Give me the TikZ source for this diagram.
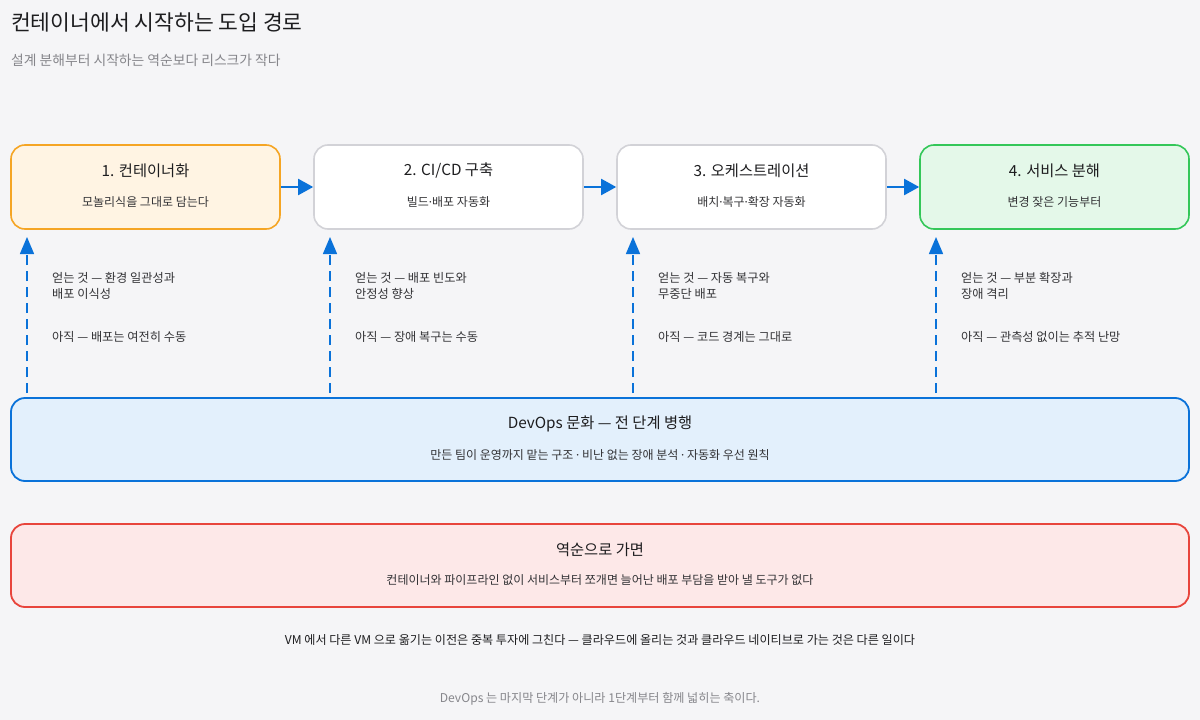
\documentclass[tikz,border=0pt]{standalone}
\usepackage{fontspec}
\setmainfont{Noto Sans CJK KR}
\newfontfamily\latinfont{Noto Sans}
\newcommand{\mdot}{{\latinfont ·}}
\usetikzlibrary{arrows.meta}
\definecolor{bg}{HTML}{F5F5F7}
\definecolor{ink}{HTML}{1D1D1F}
\definecolor{body}{HTML}{333336}
\definecolor{muted}{HTML}{86868B}
\definecolor{orangeB}{HTML}{F5A524}
\definecolor{orangeF}{HTML}{FFF4E3}
\definecolor{grayB}{HTML}{D2D2D7}
\definecolor{greenB}{HTML}{34C759}
\definecolor{greenF}{HTML}{E4F8E9}
\definecolor{blueB}{HTML}{0A72D9}
\definecolor{blueF}{HTML}{E3F0FC}
\definecolor{redB}{HTML}{E8453C}
\definecolor{redF}{HTML}{FDE8E8}
\tikzset{
  stagebox/.style={rounded corners=14pt, line width=1.6pt, minimum width=269pt, minimum height=84pt, inner sep=0pt},
  widebox/.style={rounded corners=14pt, line width=1.8pt, minimum width=1178pt, minimum height=83pt, inner sep=0pt},
  boxtitle/.style={font=\fontsize{15.3}{18}\selectfont, text=ink, inner sep=0pt},
  boxsub/.style={font=\fontsize{12}{14}\selectfont, text=body, inner sep=0pt},
  sidetext/.style={font=\fontsize{12.2}{16}\selectfont, text=body, align=left, anchor=west, inner sep=0pt},
  flow/.style={draw=blueB, line width=2pt, -{Triangle[length=15pt,width=16pt]}},
  upflow/.style={draw=blueB, line width=1.5pt, dash pattern=on 10pt off 6pt, -{Triangle[length=17pt,width=14pt]}},
}
\begin{document}
\begin{tikzpicture}[x=1pt,y=-1pt]
\fill[bg] (0,0) rectangle (1200,720);
\useasboundingbox (0,0) rectangle (1200,720);

\node[anchor=west, font=\fontsize{21.5}{24}\selectfont, text=ink, inner sep=0pt] (title) at (11,22) {컨테이너에서 시작하는 도입 경로};
\node[anchor=west, font=\fontsize{13.8}{16}\selectfont, text=muted, inner sep=0pt] (subtitle) at (11,60) {설계 분해부터 시작하는 역순보다 리스크가 작다};

\node[stagebox, draw=orangeB, fill=orangeF] (b1) at (145.5,187) {};
\node[stagebox, draw=grayB, fill=white] (b2) at (448.5,187) {};
\node[stagebox, draw=grayB, fill=white] (b3) at (751.5,187) {};
\node[stagebox, draw=greenB, fill=greenF] (b4) at (1054.5,187) {};

\node[boxtitle] (b1t) at ([yshift=16pt]b1.center) {1. 컨테이너화};
\node[boxsub] (b1s) at ([yshift=-15pt]b1.center) {모놀리식을 그대로 담는다};
\node[boxtitle] (b2t) at ([yshift=16pt]b2.center) {2. CI/CD 구축};
\node[boxsub] (b2s) at ([yshift=-15pt]b2.center) {빌드\mdot 배포 자동화};
\node[boxtitle] (b3t) at ([yshift=16pt]b3.center) {3. 오케스트레이션};
\node[boxsub] (b3s) at ([yshift=-15pt]b3.center) {배치\mdot 복구\mdot 확장 자동화};
\node[boxtitle] (b4t) at ([yshift=16pt]b4.center) {4. 서비스 분해};
\node[boxsub] (b4s) at ([yshift=-15pt]b4.center) {변경 잦은 기능부터};

\draw[flow] (b1) -- (b2);
\draw[flow] (b2) -- (b3);
\draw[flow] (b3) -- (b4);

\node[widebox, draw=blueB, fill=blueF] (dev) at (600,439.5) {};
\node[boxtitle] (devt) at ([yshift=16pt]dev.center) {DevOps 문화 — 전 단계 병행};
\node[boxsub] (devs) at ([yshift=-15pt]dev.center) {만든 팀이 운영까지 맡는 구조 \mdot{} 비난 없는 장애 분석 \mdot{} 자동화 우선 원칙};

\node[widebox, draw=redB, fill=redF] (rev) at (600,565.5) {};
\node[boxtitle] (revt) at ([yshift=16pt]rev.center) {역순으로 가면};
\node[boxsub] (revs) at ([yshift=-15pt]rev.center) {컨테이너와 파이프라인 없이 서비스부터 쪼개면 늘어난 배포 부담을 받아 낼 도구가 없다};

\foreach \i/\x in {1/27,2/330,3/633,4/936}{
  \coordinate (u\i s) at (\x,393);
  \coordinate (u\i e) at (\x,237);
  \draw[upflow] (u\i s) -- (u\i e);
}

\node[sidetext] (g1) at (52,286) {얻는 것 — 환경 일관성과\\배포 이식성};
\node[sidetext] (n1) at (52,337) {아직 — 배포는 여전히 수동};
\node[sidetext] (g2) at (355,286) {얻는 것 — 배포 빈도와\\안정성 향상};
\node[sidetext] (n2) at (355,337) {아직 — 장애 복구는 수동};
\node[sidetext] (g3) at (658,286) {얻는 것 — 자동 복구와\\무중단 배포};
\node[sidetext] (n3) at (658,337) {아직 — 코드 경계는 그대로};
\node[sidetext] (g4) at (961,286) {얻는 것 — 부분 확장과\\장애 격리};
\node[sidetext] (n4) at (961,337) {아직 — 관측성 없이는 추적 난망};

\node[font=\fontsize{12.1}{14}\selectfont, text=ink, inner sep=0pt] (foot) at (600,640) {VM 에서 다른 VM 으로 옮기는 이전은 중복 투자에 그친다 — 클라우드에 올리는 것과 클라우드 네이티브로 가는 것은 다른 일이다};
\node[font=\fontsize{12.1}{14}\selectfont, text=muted, inner sep=0pt] (note) at (600,699) {DevOps 는 마지막 단계가 아니라 1단계부터 함께 넓히는 축이다.};
\end{tikzpicture}
\end{document}
